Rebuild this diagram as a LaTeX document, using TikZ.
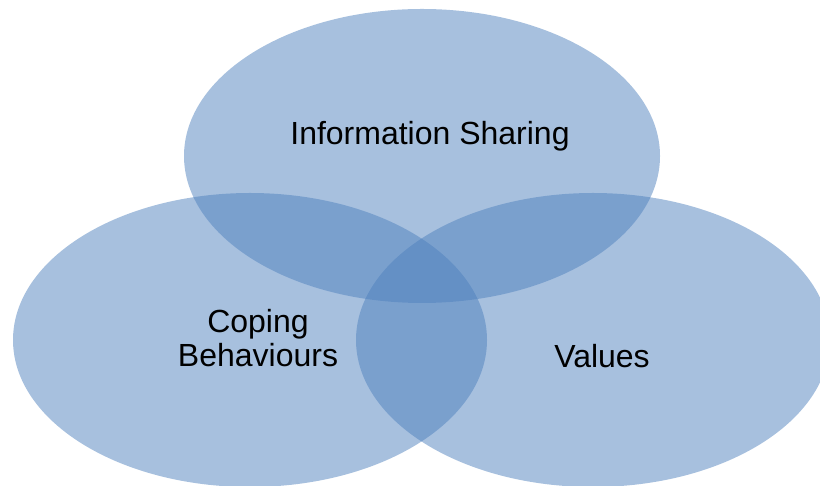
\documentclass[tikz,border=0pt]{standalone}
\usepackage{fontspec}
\setmainfont{Liberation Sans}
\definecolor{vennblue}{RGB}{79,129,189}

\begin{document}
\begin{tikzpicture}[x=0.75pt,y=0.75pt,
  venn/.style={fill=vennblue, fill opacity=0.5},
  lbl/.style={align=center, font=\fontsize{24}{25.5}\selectfont}]
\useasboundingbox (0,0) rectangle (820,485);
\fill[venn] (422,329) ellipse [x radius=238, y radius=147];
\fill[venn] (250,145) ellipse [x radius=237, y radius=147];
\fill[venn] (593,145) ellipse [x radius=237, y radius=147];
\node[lbl] (info) at (430,349) {Information Sharing};
\node[lbl] (coping) at (258,147) {Coping\\Behaviours};
\node[lbl] (values) at (602,129) {Values};
\end{tikzpicture}
\end{document}
